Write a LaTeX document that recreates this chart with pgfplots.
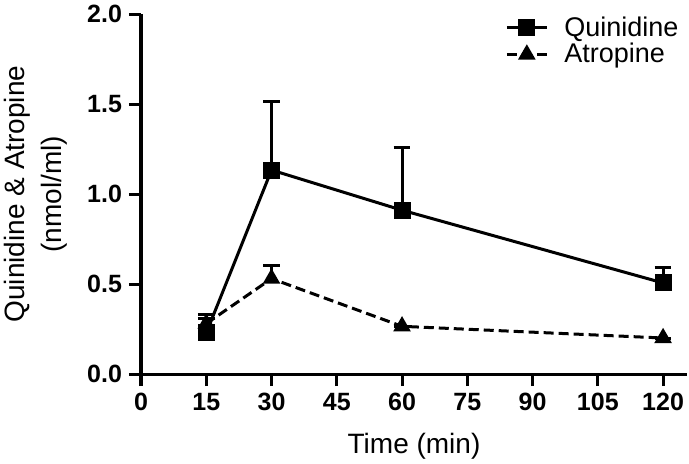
\documentclass[border=0pt]{standalone}
\usepackage{pgfplots}
\pgfplotsset{compat=1.18}
\usepackage{fontspec}
\setmainfont{Liberation Sans}
\begin{document}
\begin{tikzpicture}
\path[use as bounding box] (-70.5pt,-44.5pt) rectangle (274pt,187pt);
\begin{axis}[
  at={(0,0)}, anchor=south west,
  scale only axis, width=273pt, height=180pt,
  xmin=0, xmax=125.5, ymin=0, ymax=2,
  axis x line=bottom, axis y line=left,
  axis line style={line width=1.5pt, -},
  xtick={0,15,...,120}, ytick={0,0.5,...,2},
  tick style={line width=1.5pt, black},
  tick align=outside, major tick length=6pt,
  /pgf/number format/assume math mode=true,
  yticklabel style={/pgf/number format/.cd, fixed, fixed zerofill, precision=1},
  ticklabel style={font=\bfseries\fontsize{12.5}{14}\selectfont},
  xlabel={Time (min)}, ylabel={Quinidine \& Atropine\\(nmol/ml)},
  xlabel style={font=\fontsize{14}{16}\selectfont, at={(axis description cs:0.5,0)}, anchor=base, yshift=-39.5pt},
  ylabel style={font=\fontsize{14}{18.5}\selectfont, align=center, inner sep=0pt,
    at={(axis description cs:-0.135,0.5)}, anchor=south},
  legend style={draw=none, fill=none, at={(0.985,1.005)}, anchor=north east,
    font=\fontsize{13.5}{15}\selectfont, row sep=-2pt, inner sep=0pt,
    nodes={inner xsep=0pt}},
  legend cell align=left,
  legend image code/.code={\draw[mark repeat=2, mark phase=2, #1] plot coordinates {(0pt,0pt) (10pt,0pt) (20pt,0pt)};},
  clip=false,
]
\addplot[black, line width=1.5pt, mark=square*, mark size=3.5pt,
  error bars/.cd, y dir=plus, y explicit,
  error bar style={line width=1.5pt, solid}, error mark options={rotate=90, mark size=4.2pt, line width=1.5pt}]
  coordinates {(15,0.228) +- (0,0.10) (30,1.133) +- (0,0.38) (60,0.91) +- (0,0.35) (120,0.506) +- (0,0.085)};
\addlegendentry{\hspace*{8pt}Quinidine}
\addplot[black, line width=1.5pt, dash pattern=on 5pt off 2.5pt, mark=triangle*, mark size=3.6pt, mark options={solid},
  error bars/.cd, y dir=plus, y explicit,
  error bar style={line width=1.5pt, solid}, error mark options={rotate=90, mark size=4.2pt, line width=1.5pt, solid}]
  coordinates {(15,0.28) +- (0,0.03) (30,0.53) +- (0,0.075) (60,0.265) +- (0,0) (120,0.20) +- (0,0)};
\addlegendentry{\hspace*{8pt}Atropine}
\end{axis}
\end{tikzpicture}
\end{document}
